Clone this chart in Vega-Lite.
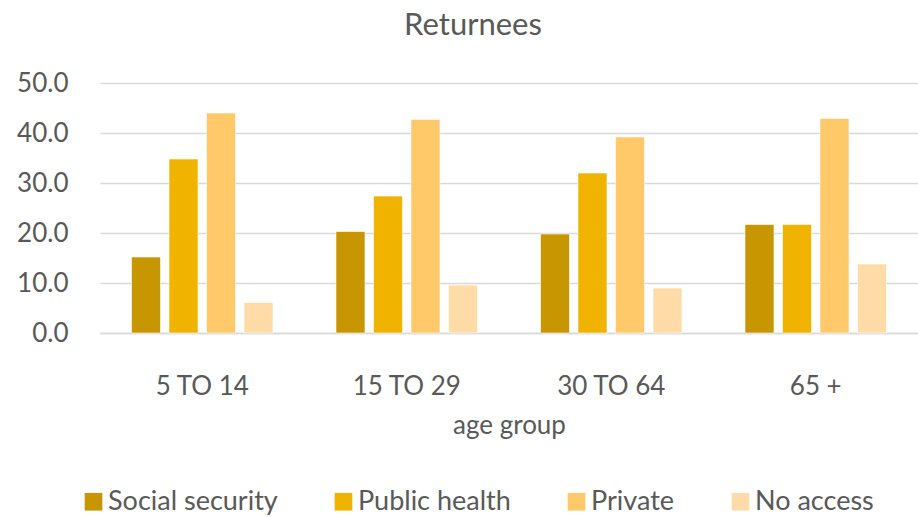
{
  "$schema": "https://vega.github.io/schema/vega-lite/v6.json",
  "width": 818,
  "height": 250,
  "autosize": {"type": "none"},
  "padding": {"left": 100, "top": 83, "right": 0, "bottom": 184},
  "background": "white",
  "config": {
    "font": "Lato",
    "view": {"stroke": null}
  },
  "title": {
    "text": "Returnees",
    "frame": "group",
    "anchor": "middle",
    "dx": -36,
    "offset": 28,
    "fontSize": 31,
    "fontWeight": "normal",
    "color": "#595959",
    "font": "Lato"
  },
  "data": {
    "values": [
      {"age": "5 TO 14", "type": "Social security", "value": 15.2},
      {"age": "5 TO 14", "type": "Public health", "value": 34.8},
      {"age": "5 TO 14", "type": "Private", "value": 44.0},
      {"age": "5 TO 14", "type": "No access", "value": 6.1},
      {"age": "15 TO 29", "type": "Social security", "value": 20.3},
      {"age": "15 TO 29", "type": "Public health", "value": 27.4},
      {"age": "15 TO 29", "type": "Private", "value": 42.7},
      {"age": "15 TO 29", "type": "No access", "value": 9.6},
      {"age": "30 TO 64", "type": "Social security", "value": 19.8},
      {"age": "30 TO 64", "type": "Public health", "value": 32.0},
      {"age": "30 TO 64", "type": "Private", "value": 39.2},
      {"age": "30 TO 64", "type": "No access", "value": 9.0},
      {"age": "65 +", "type": "Social security", "value": 21.7},
      {"age": "65 +", "type": "Public health", "value": 21.7},
      {"age": "65 +", "type": "Private", "value": 42.9},
      {"age": "65 +", "type": "No access", "value": 13.8}
    ]
  },
  "mark": {"type": "bar", "stroke": "#FFFFFF", "strokeOpacity": 0.6, "strokeWidth": 1},
  "encoding": {
    "x": {
      "field": "age",
      "type": "nominal",
      "sort": ["5 TO 14", "15 TO 29", "30 TO 64", "65 +"],
      "scale": {"paddingInner": 0.308, "paddingOuter": 0.154},
      "axis": {
        "title": "age group",
        "labelAngle": 0,
        "labelFontSize": 26,
        "labelColor": "#595959",
        "labelPadding": 61,
        "labelBaseline": "alphabetic",
        "ticks": false,
        "domainColor": "#D9D9D9",
        "domainWidth": 1.5,
        "titleFontSize": 26,
        "titleFontWeight": "normal",
        "titleColor": "#595959",
        "titleBaseline": "alphabetic",
        "titleY": 100
      }
    },
    "xOffset": {
      "field": "type",
      "type": "nominal",
      "sort": ["Social security", "Public health", "Private", "No access"],
      "scale": {"paddingInner": 0.227, "paddingOuter": 0}
    },
    "y": {
      "field": "value",
      "type": "quantitative",
      "scale": {"domain": [0, 50]},
      "axis": {
        "title": null,
        "values": [0, 10, 20, 30, 40, 50],
        "format": ".1f",
        "labelFontSize": 26,
        "labelColor": "#595959",
        "labelPadding": 32,
        "ticks": false,
        "domain": false,
        "gridColor": "#D9D9D9",
        "gridWidth": 1.5
      }
    },
    "color": {
      "field": "type",
      "type": "nominal",
      "sort": ["Social security", "Public health", "Private", "No access"],
      "scale": {
        "domain": ["Social security", "Public health", "Private", "No access"],
        "range": ["#C89600", "#F0B400", "#FFC869", "#FFDBA8"]
      },
      "legend": {
        "title": null,
        "orient": "none",
        "direction": "horizontal",
        "legendX": -20,
        "legendY": 405,
        "symbolType": "square",
        "symbolSize": 313,
        "symbolStrokeWidth": 0,
        "symbolOpacity": 1,
        "labelFontSize": 27,
        "labelColor": "#595959",
        "labelOffset": 1,
        "columnPadding": 52,
        "labelLimit": 300
      }
    }
  }
}
